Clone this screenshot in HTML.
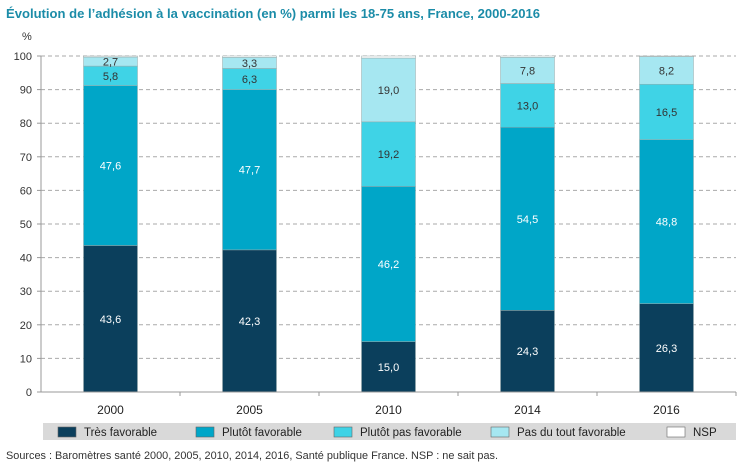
<!DOCTYPE html>
<html><head><meta charset="utf-8"><style>
body{margin:0;background:#fff;width:754px;height:469px;overflow:hidden;font-family:"Liberation Sans Narrow","Liberation Sans",sans-serif}
</style></head><body>
<svg id="chart" width="754" height="469" xmlns="http://www.w3.org/2000/svg">
<text x="6" y="18" font-size="13" font-weight="bold" fill="#1b8ca8" textLength="534" lengthAdjust="spacingAndGlyphs">Évolution de l’adhésion à la vaccination (en %) parmi les 18-75 ans, France, 2000-2016</text>
<text x="22" y="40" font-size="11" fill="#333">%</text>
<g id="grid"></g><g id="bars"></g><g id="axes"></g>
<rect x="43" y="423" width="693" height="17" fill="#d9d9d9"/>
<g id="legend"></g>
<text x="6" y="459" font-size="11" fill="#333" textLength="492" lengthAdjust="spacingAndGlyphs">Sources : Baromètres santé 2000, 2005, 2010, 2014, 2016, Santé publique France. NSP : ne sait pas.</text>
</svg>
<script>
const categories=["2000","2005","2010","2014","2016"];
const tresFav=[43.6,42.3,15.0,24.3,26.3];
const plutotFav=[47.6,47.7,46.2,54.5,48.8];
const plutotPas=[5.8,6.3,19.2,13.0,16.5];
const pasDuTout=[2.7,3.3,19.0,7.8,8.2];
const nsp=[0.3,0.4,0.6,0.4,0.2];
const seriesNames=["Très favorable","Plutôt favorable","Plutôt pas favorable","Pas du tout favorable","NSP"];
const yTicks=[0,10,20,30,40,50,60,70,80,90,100];
const colors=["#0b3f5c","#00a6c8","#3fd3e6","#a6e7f1","#ffffff"];
const textColors=["#fff","#fff","#333","#333","#333"];
const NS="http://www.w3.org/2000/svg";
const X0=41,X1=736,Y0=392,Y1=56,BW=54;
const y=v=>Y0-(v/100)*(Y0-Y1);
const band=(X1-X0)/categories.length;
const xc=i=>X0+band*(i+0.5);
function mk(t,a,p){const e=document.createElementNS(NS,t);for(const k in a)e.setAttribute(k,a[k]);p.appendChild(e);return e;}
const grid=document.getElementById('grid'),bars=document.getElementById('bars'),axes=document.getElementById('axes'),leg=document.getElementById('legend');
yTicks.forEach(t=>{
  if(t>0){const l=mk('line',{x1:X0,x2:X1,y1:y(t),y2:y(t),stroke:'#aaa','stroke-dasharray':'4,3'},grid);
  
  }
  const tk=mk('line',{x1:X0-4,x2:X0,y1:y(t),y2:y(t),stroke:'#999'},axes);
  
  
  const tx=mk('text',{x:X0-9,y:y(t)+4,'font-size':11,'text-anchor':'end',fill:'#333'},axes);
  tx.textContent=t;
  
  
});
const series=[tresFav,plutotFav,plutotPas,pasDuTout,nsp];
categories.forEach((c,i)=>{
  let acc=0;
  series.forEach((s,k)=>{
    const v=s[i];
    const r=mk('rect',{x:xc(i)-BW/2,y:y(acc+v),width:BW,height:y(acc)-y(acc+v),fill:colors[k],stroke:'#9aa',"stroke-width":0.5},bars);
    
    
    if(k<4){
      const t=mk('text',{x:xc(i),y:y(acc+v/2)+4,'font-size':11,'text-anchor':'middle',fill:textColors[k]},bars);
      t.textContent=v.toFixed(1).replace('.',',');
      
      
    }
    acc+=v;
  });
  const tx=mk('text',{x:xc(i),y:414,'font-size':12,'text-anchor':'middle',fill:'#222'},axes);
  tx.textContent=c;
  
  
  const tk=mk('line',{x1:X0+band*(i+1),x2:X0+band*(i+1),y1:Y0,y2:Y0+4,stroke:'#999'},axes);
  
  
});
const ya=mk('line',{x1:X0,x2:X0,y1:Y1,y2:Y0,stroke:'#999'},axes);


const xa=mk('line',{x1:X0,x2:X1,y1:Y0,y2:Y0,stroke:'#999'},axes);


const legX=[58,196,334,491,667];
seriesNames.forEach((n,k)=>{
  const r=mk('rect',{x:legX[k],y:427,width:18,height:10,fill:colors[k],stroke:'#666','stroke-width':0.6},leg);
  
  
  const t=mk('text',{x:legX[k]+26,y:436,'font-size':11.5,fill:'#222'},leg);
  t.textContent=n;
  
  
});
</script>
</body></html>
